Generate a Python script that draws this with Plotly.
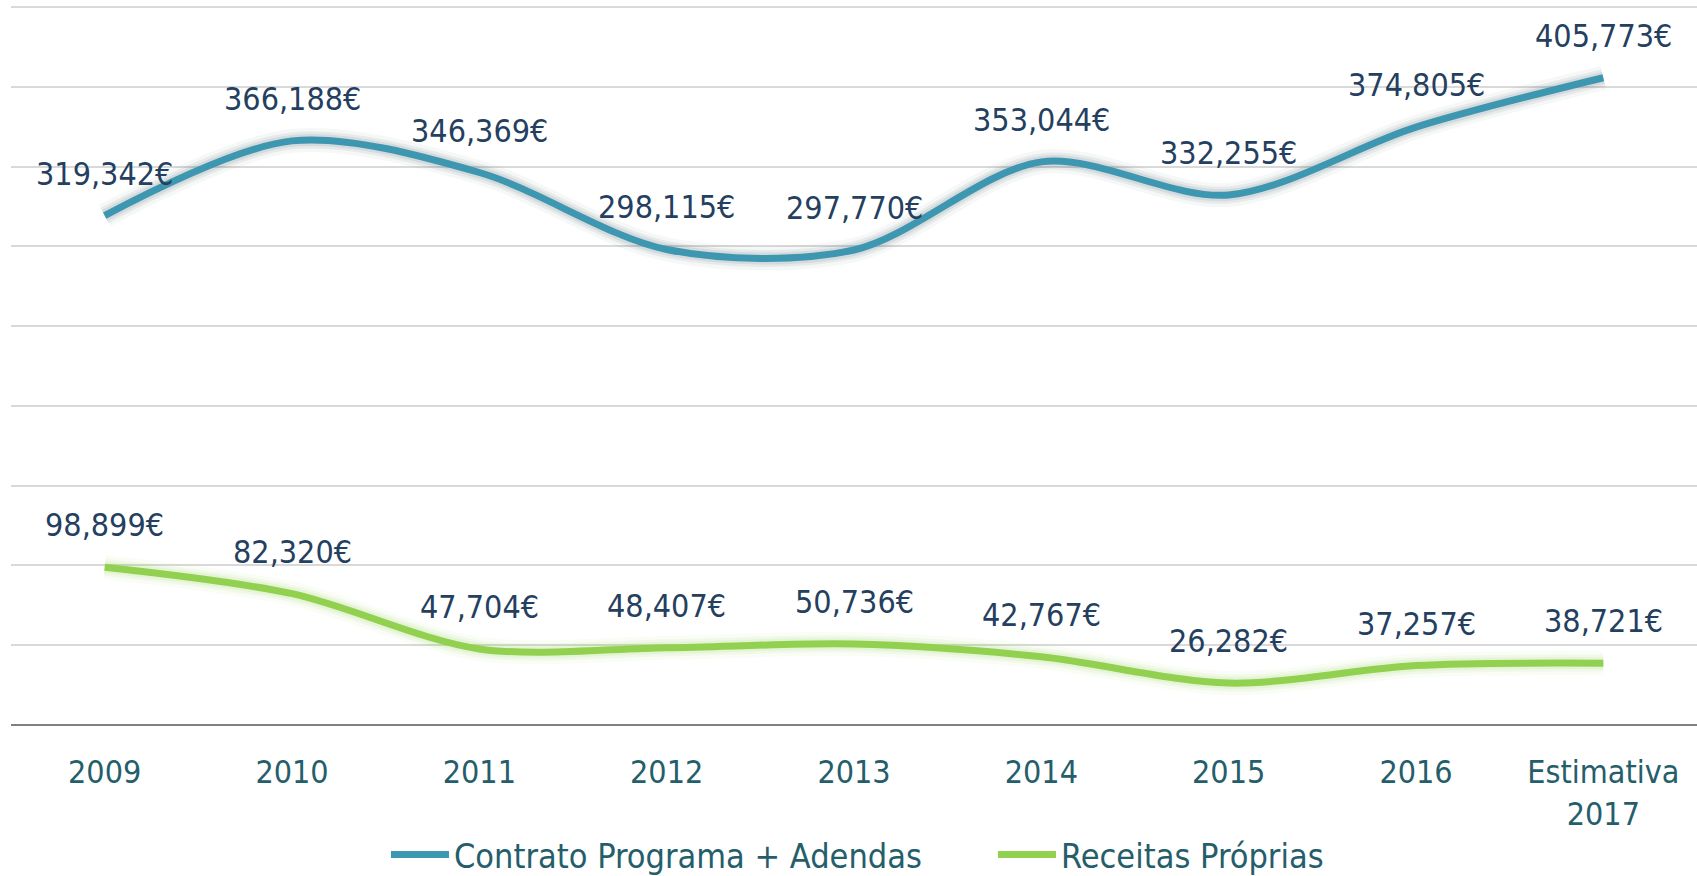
import plotly.graph_objects as go

categories = ["2009", "2010", "2011", "2012", "2013", "2014", "2015", "2016", "Estimativa<br>2017"]
contrato = [319342, 366188, 346369, 298115, 297770, 353044, 332255, 374805, 405773]
receitas = [98899, 82320, 47704, 48407, 50736, 42767, 26282, 37257, 38721]
series_names = ["Contrato Programa + Adendas", "Receitas Próprias"]

FONT = "DejaVu Sans Condensed, Liberation Sans Narrow, sans-serif"
BLUE = "#3E97B0"
GREEN = "#92D050"
LABEL = "#243F60"
TEAL = "#255E6B"

xs = list(range(len(categories)))

fig = go.Figure()

# soft glow shadows
for vals, col in [(contrato, "rgba(70,90,100,"), (receitas, "rgba(146,208,80,")]:
    for w, a in [(24, 0.05), (17, 0.08), (12, 0.11)]:
        fig.add_trace(go.Scatter(x=xs, y=vals, mode="lines",
                                 line=dict(color=col + f"{a})", width=w, shape="spline", smoothing=0.9),
                                 showlegend=False, hoverinfo="skip"))

fig.add_trace(go.Scatter(x=xs, y=contrato, mode="lines", name=series_names[0],
                         line=dict(color=BLUE, width=7, shape="spline", smoothing=0.9)))
fig.add_trace(go.Scatter(x=xs, y=receitas, mode="lines", name=series_names[1],
                         line=dict(color=GREEN, width=7, shape="spline", smoothing=0.9)))

annotations = []
for vals in (contrato, receitas):
    for i, v in enumerate(vals):
        annotations.append(dict(x=i, y=v, text=f"{v:,}€", showarrow=False,
                                yshift=42, xanchor="center", yanchor="middle",
                                font=dict(family=FONT, size=32, color=LABEL)))

fig.update_layout(
    width=1697, height=876,
    margin=dict(l=11, r=0, t=4, b=151, autoexpand=False),
    paper_bgcolor="white", plot_bgcolor="white",
    annotations=annotations,
    showlegend=True,
    legend=dict(orientation="h", x=0.2224, xanchor="left", y=-0.180, yanchor="middle",
                font=dict(family=FONT, size=34, color=TEAL), itemwidth=58,
                entrywidth=534, entrywidthmode="pixels", tracegroupgap=0),
    font=dict(family=FONT),
)
fig.update_xaxes(tickvals=xs, ticktext=categories, range=[-0.5, 8.5],
                 showgrid=False, zeroline=False, showline=False, ticks="",
                 ticklabelstandoff=25,
                 tickfont=dict(family=FONT, size=32, color=TEAL))
fig.update_yaxes(range=[0, 452000], tickvals=[50000 * k for k in range(10)], showticklabels=False,
                 showgrid=True, gridcolor="#D9D9D9", gridwidth=1.5,
                 zeroline=True, zerolinecolor="#808080", zerolinewidth=2)

fig.write_html("out.html", config={"displayModeBar": False},
               post_script="document.body.style.margin='0';document.body.style.overflow='hidden';")
